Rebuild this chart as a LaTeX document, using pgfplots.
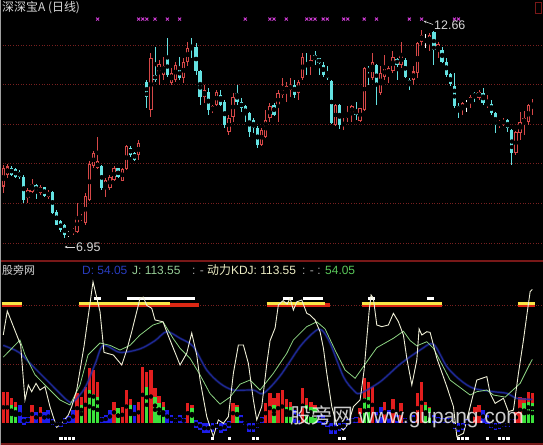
\documentclass[border=0pt]{standalone}
\usepackage{fontspec}
\setmainfont{Liberation Sans}
\newfontfamily\cjk{Noto Sans CJK SC}
\usepackage{pgfplots}
\usepackage{pgfplotstable}
\pgfplotsset{compat=1.18}
\usetikzlibrary{arrows.meta}

\definecolor{upred}{RGB}{214,72,72}
\definecolor{dncyan}{RGB}{100,226,226}
\definecolor{xpink}{RGB}{205,60,210}
\definecolor{gridred}{RGB}{120,32,32}
\definecolor{framered}{RGB}{120,24,24}
\definecolor{jline}{RGB}{238,238,214}
\definecolor{kline}{RGB}{140,210,130}
\definecolor{dline}{RGB}{36,48,175}
\definecolor{hred}{RGB}{226,30,30}
\definecolor{hgreen}{RGB}{60,226,60}
\definecolor{hblue}{RGB}{30,30,235}
\definecolor{stripered}{RGB}{220,40,20}
\definecolor{stripeyel}{RGB}{250,230,70}
\definecolor{txtgray}{RGB}{215,215,215}
\definecolor{sepgray}{RGB}{170,170,170}
\definecolor{dtxt}{RGB}{40,60,190}
\definecolor{jtxt}{RGB}{150,205,150}
\definecolor{ktxt}{RGB}{235,235,195}
\definecolor{gtxt}{RGB}{90,200,90}

% daily candles: index, open, high, low, close
\pgfplotstableread{
i O H L C
0 8.36 8.95 8.18 8.86
1 8.68 8.97 8.59 8.91
6 8.04 8.31 7.90 8.27
7 8.22 8.57 8.18 8.42
9 8.18 8.39 8.13 8.36
11 8.08 8.27 8.02 8.22
17 7.08 7.23 7.03 7.20
18 7.12 7.90 7.08 7.53
19 7.44 7.60 7.40 7.56
20 7.35 8.18 7.31 8.11
21 7.99 9.05 7.95 8.97
22 8.91 9.34 8.86 9.27
23 8.86 9.73 8.84 9.05
25 8.31 8.59 8.08 8.54
26 8.31 8.68 8.27 8.63
27 8.54 8.91 8.50 8.86
29 8.51 8.88 8.50 8.84
30 8.84 9.50 8.82 9.46
33 9.23 9.64 9.09 9.55
36 10.46 12.02 10.28 11.88
38 11.47 11.84 11.15 11.72
39 11.43 11.93 11.29 11.66
41 11.20 11.61 11.15 11.47
42 11.29 11.79 11.24 11.70
44 11.33 11.88 11.20 11.79
45 11.79 12.34 11.66 12.16
49 10.83 11.15 10.65 11.01
51 10.44 10.60 10.37 10.56
52 10.60 11.01 10.56 10.97
55 9.87 10.33 9.78 10.24
56 10.28 10.92 10.14 10.83
63 9.50 9.96 9.46 9.92
64 9.73 10.46 9.69 10.19
65 10.24 10.65 10.14 10.56
67 10.56 11.01 10.14 10.92
68 10.88 11.34 10.79 11.01
69 10.97 11.24 10.69 11.11
70 11.01 11.34 10.83 11.15
72 10.92 11.29 10.74 11.24
73 11.33 12.02 11.29 11.93
75 11.66 11.98 11.43 11.84
81 10.05 10.62 10.03 10.60
83 10.01 10.24 9.92 10.14
84 10.24 10.56 10.14 10.37
85 10.37 10.60 10.14 10.56
87 10.16 10.53 10.14 10.51
88 10.46 11.63 10.44 11.61
90 11.33 12.02 11.29 11.79
92 10.92 11.66 10.88 11.47
93 11.38 11.98 11.29 11.61
94 11.43 11.66 11.20 11.61
95 11.52 12.07 11.47 11.93
97 11.70 12.34 11.61 11.98
100 11.29 11.66 11.15 11.52
101 11.47 12.34 11.33 12.30
102 12.33 12.66 12.25 12.52
104 12.30 12.57 12.07 12.52
106 12.07 12.34 11.88 12.27
112 10.46 10.69 10.33 10.65
114 10.65 10.88 10.51 10.83
116 10.80 11.01 10.74 10.97
118 10.56 10.88 10.51 10.69
121 10.07 10.19 9.96 10.13
122 10.07 10.24 10.03 10.19
125 9.27 9.89 9.23 9.87
126 9.82 10.40 9.64 10.14
127 10.10 10.44 9.78 10.24
128 10.14 10.62 10.05 10.60
129 10.56 10.77 10.33 10.65
}\upcandles

\pgfplotstableread{
i O H L C
2 8.88 8.91 8.66 8.68
3 8.84 8.86 8.59 8.63
4 8.77 8.82 8.57 8.61
5 8.63 8.68 7.90 7.99
8 8.40 8.42 8.02 8.22
10 8.34 8.36 8.06 8.11
12 8.22 8.24 7.60 7.63
13 7.67 7.72 7.29 7.31
14 7.40 7.44 7.12 7.17
15 7.31 7.33 6.95 7.03
24 8.91 8.95 8.27 8.31
28 8.86 8.88 8.59 8.61
31 9.43 9.48 9.18 9.23
32 9.29 9.32 9.05 9.09
35 11.24 11.29 10.51 10.83
37 11.43 12.20 11.24 11.29
40 11.88 12.43 11.38 11.43
43 11.61 11.93 11.29 11.33
46 12.23 12.43 11.88 12.18
47 12.20 12.30 11.43 11.52
48 11.52 11.56 10.60 10.83
50 10.97 11.06 10.33 10.46
53 10.88 11.01 10.56 10.60
54 10.69 10.74 9.96 10.05
57 10.92 11.15 10.60 10.69
58 10.69 10.78 10.42 10.51
59 10.56 10.60 10.14 10.33
60 10.37 10.40 9.73 9.87
61 10.19 10.24 9.82 9.96
62 9.96 10.01 9.41 9.50
66 10.60 10.65 10.31 10.33
71 11.15 11.29 10.79 10.88
74 11.72 12.02 11.43 11.66
76 11.98 12.07 11.70 11.84
77 11.88 11.90 11.43 11.75
78 11.70 11.79 11.38 11.43
79 11.47 11.66 11.29 11.33
80 11.26 11.29 10.08 10.10
82 10.60 10.62 9.94 10.05
86 10.46 10.68 10.19 10.33
89 11.61 11.66 11.15 11.52
91 11.70 11.72 10.60 11.11
96 11.87 11.88 11.29 11.70
98 11.84 11.88 11.33 11.38
99 11.29 11.33 11.01 11.15
105 12.60 12.64 11.70 12.11
107 12.11 12.20 11.75 11.79
108 11.79 11.88 11.38 11.43
109 11.44 11.47 11.11 11.17
110 11.11 11.47 10.51 10.56
111 10.57 10.65 10.25 10.46
115 10.92 10.97 10.69 10.83
117 10.92 11.06 10.60 10.65
119 10.62 10.74 10.33 10.37
120 10.37 10.40 9.82 10.05
123 10.19 10.21 9.87 9.96
124 9.92 9.94 8.95 9.27
}\downcandles

\pgfplotstableread{
i O H L C
16 7.06 7.14 6.97 7.06
34 10.56 10.57 10.55 10.56
103 12.38 12.55 12.16 12.38
113 10.62 10.74 10.42 10.62
}\dojicandles

% momentum histogram
\pgfplotstableread{
i v
0 26.6
1 26.6
2 21
3 18.1
7 15.3
9 13.9
18 25.2
19 22.4
20 30.9
21 46.5
22 45
23 35.1
27 18.1
28 12.5
29 13.9
30 28
31 20.1
33 18.1
34 47.9
35 43.6
36 45
37 29.5
38 22.9
39 18.1
45 16.7
46 15.3
56 16.7
57 15.3
64 16.7
65 25.2
66 21
67 25.2
68 28
69 20.1
70 18.1
73 29.5
74 21
75 18.1
76 15.3
87 12.5
88 38
89 35.1
90 30.9
93 18.1
95 20.1
97 16.7
101 25.2
102 34.5
103 18.1
104 13.9
115 13.9
116 15.3
125 9.6
126 22.4
127 21
128 26.6
129 25.2
}\redbars

\pgfplotstableread{
i v
2 15.3
3 13.9
19 15.3
21 28
22 25
23 22.4
28 12.5
31 15.3
35 30.9
37 22.4
38 16.7
39 13.9
46 12.5
57 13.9
66 15.3
69 13.9
70 13.9
74 15.3
75 13.9
76 12.5
88 21
89 22
103 15.3
104 12.5
127 16.7
128 18
129 16.7
}\greenbars

\pgfplotstableread{
i lo hi
4 0 15.3
5 -1.7 5.4
6 0 5.4
8 0 9.6
10 0 9.6
11 0 11
12 -2 3
13 -3.1 1
14 -3 1
15 -1 4
16 0 6
17 0 11
24 0 5.4
25 0 6.8
26 0 11
32 0 15.3
40 0 11
41 0 6.8
42 0 4
43 0 6.8
44 0 4
47 -4.5 2.6
48 -6 1
49 -8.8 0
50 -8.8 0
51 -7.4 0
52 -5 0
53 -8.8 0
54 -7 0
55 -4 2
58 0 6.8
59 -2 2
60 -7.4 0
61 -7.4 0
62 -4 0
63 0 5
71 0 11
72 0 8
77 0 6.8
78 -2 6.8
79 -3 2
80 -9 0
81 -9 0
82 -7 0
83 -5 0
84 -2 3
85 0 4
86 0 5
91 0 9.6
92 0 13.9
94 0 11
96 0 6.8
98 0 4
99 0 2.6
100 0 6.8
105 0 6.8
106 0 5
107 0 4
108 0 4
109 0 4
110 -5 0
111 -8 0
112 -6 0
113 -2 3
117 0 11
118 -1 6.8
119 -4 0
120 -6 0
121 -5 0
122 -3 0
123 -3 0
124 0 3
}\bluebars

\pgfplotsset{
  vseg/.style 2 args={only marks, mark=none, forget plot,
    error bars/.cd, y dir=both, y explicit, error mark=none,
    error bar style={draw=#1, line width=#2, solid}},
}

\begin{document}
\begin{tikzpicture}[x=1bp,y=1bp]
\fill[black] (0,0) rectangle (543,445);

% ---------- price panel ----------
\begin{axis}[at={(0bp,182bp)}, anchor=south west,
  width=543bp, height=263bp, scale only axis, hide axis,
  xmin=-0.8, xmax=131.6, ymin=6.259, ymax=13.484]
  \foreach \p in {12.25,11.17,10.08,8.99,7.90,6.81}{
    \edef\tmp{\noexpand\draw[gridred, line width=0.8bp, dash pattern=on 1bp off 1.6bp]
      (axis cs:-0.8,\p) -- (axis cs:131.6,\p);}\tmp}
  % wicks
  \addplot[vseg={upred}{0.9bp}] table[x=i, y expr={(\thisrow{H}+\thisrow{L})/2}, y error expr={(\thisrow{H}-\thisrow{L})/2}] {\upcandles};
  \addplot[vseg={dncyan}{0.9bp}] table[x=i, y expr={(\thisrow{H}+\thisrow{L})/2}, y error expr={(\thisrow{H}-\thisrow{L})/2}] {\downcandles};
  \addplot[vseg={white}{0.9bp}] table[x=i, y expr={(\thisrow{H}+\thisrow{L})/2}, y error expr={(\thisrow{H}-\thisrow{L})/2}] {\dojicandles};
  % bodies
  \addplot[vseg={upred}{3.3bp}] table[x=i, y expr={(\thisrow{O}+\thisrow{C})/2}, y error expr={max(abs(\thisrow{C}-\thisrow{O})/2,0.014)}] {\upcandles};
  \addplot[vseg={black}{1.3bp}] table[x=i, y expr={(\thisrow{O}+\thisrow{C})/2}, y error expr={max(abs(\thisrow{C}-\thisrow{O})/2-0.028,0)}] {\upcandles};
  \addplot[vseg={dncyan}{3.3bp}] table[x=i, y expr={(\thisrow{O}+\thisrow{C})/2}, y error expr={max(abs(\thisrow{C}-\thisrow{O})/2,0.014)}] {\downcandles};
  \addplot[vseg={white}{3.3bp}] table[x=i, y expr={(\thisrow{O}+\thisrow{C})/2}, y error expr={max(abs(\thisrow{C}-\thisrow{O})/2,0.014)}] {\dojicandles};
  % signal marks
  \addplot[only marks, mark=x, mark size=2.1bp, xpink, line width=0.9bp] coordinates {
    (23,12.96) (33,12.96) (34,12.96) (35,12.96) (37,12.96) (40,12.96) (43,12.96)
    (59,12.96) (65,12.96) (66,12.96) (69,12.96) (74,12.96) (75,12.96) (76,12.96)
    (78,12.96) (79,12.96) (83,12.96) (84,12.96) (88,12.96) (91,12.96) (99,12.96)
    (102,12.96) (110,12.96) (111,12.96)};
\end{axis}

% ---------- indicator panel ----------
\begin{axis}[at={(0bp,0bp)}, anchor=south west,
  width=543bp, height=182bp, scale only axis, hide axis,
  xmin=-0.8, xmax=131.6, ymin=-18.7, ymax=136]
  \draw[gridred, line width=0.8bp, dash pattern=on 1bp off 1.6bp] (axis cs:-0.8,100) -- (axis cs:131.6,100);
  \draw[gridred, line width=0.8bp, dash pattern=on 1bp off 1.6bp] (axis cs:-0.8,50) -- (axis cs:131.6,50);
  % histogram
  \addplot[vseg={hred}{3.3bp}] table[x=i, y expr={\thisrow{v}/2}, y error expr={\thisrow{v}/2}] {\redbars};
  \addplot[vseg={hgreen}{3.3bp}] table[x=i, y expr={\thisrow{v}/2}, y error expr={\thisrow{v}/2}] {\greenbars};
  \addplot[vseg={hblue}{3.8bp}] table[x=i, y expr={(\thisrow{lo}+\thisrow{hi})/2}, y error expr={(\thisrow{hi}-\thisrow{lo})/2}] {\bluebars};
  % overbought stripes
  \addplot[stripered, line width=4.6bp] coordinates {(-0.4,100.4) (4.5,100.4)};
  \addplot[stripered, line width=4.6bp] coordinates {(18.5,100.4) (47.7,100.4)};
  \addplot[stripered, line width=4.6bp] coordinates {(64.2,100.4) (79.7,100.4)};
  \addplot[stripered, line width=4.6bp] coordinates {(87.4,100.4) (106.9,100.4)};
  \addplot[stripered, line width=4.6bp] coordinates {(125.5,100.4) (129.7,100.4)};
  \addplot[stripeyel, line width=2.2bp] coordinates {(-0.4,101.6) (4.5,101.6)};
  \addplot[stripeyel, line width=2.2bp] coordinates {(18.5,101.6) (40.7,101.6)};
  \addplot[stripeyel, line width=2.2bp] coordinates {(64.2,101.6) (78.5,101.6)};
  \addplot[stripeyel, line width=2.2bp] coordinates {(87.4,101.6) (106.9,101.6)};
  \addplot[stripeyel, line width=2.2bp] coordinates {(125.5,101.6) (129.7,101.6)};
  \addplot[white, line width=3bp] coordinates {(22.1,106) (23.8,106)};
  \addplot[white, line width=3bp] coordinates {(30.2,106) (46.8,106)};
  \addplot[white, line width=3bp] coordinates {(68.1,106) (70.7,106)};
  \addplot[white, line width=3bp] coordinates {(73.2,106) (78.0,106)};
  \addplot[white, line width=3bp] coordinates {(89.0,106) (90.7,106)};
  \addplot[white, line width=3bp] coordinates {(103.3,106) (104.9,106)};
  % D line
  \addplot[dline, line width=2.6bp, opacity=0.3, smooth, tension=0.5] coordinates {
    (0,66) (2.85,62) (4.07,59.5) (7.32,47.9) (11.39,33.7) (15.46,19.6) (17.07,18.1)
    (19.93,30) (22.37,50) (24.39,66) (28.46,60) (33.34,63) (37.0,70) (39.85,77.6)
    (43.10,72) (46.34,64.9) (49.61,45) (52.85,33.7) (56.10,28) (60.98,28) (63.41,25.2)
    (67.49,40) (72.37,65) (76.02,78) (77.66,79) (79.68,68) (82.93,39.4) (85.37,28)
    (87.0,25.2) (91.88,35) (96.76,50) (101.63,62) (104.88,67) (108.15,47.9) (111.41,36.5)
    (114.63,29.5) (119.51,26.6) (122.78,25.2) (125.22,21) (128.98,20)};
  \addplot[dline, line width=1.2bp, opacity=0.8, smooth, tension=0.5] coordinates {
    (0,66) (2.85,62) (4.07,59.5) (7.32,47.9) (11.39,33.7) (15.46,19.6) (17.07,18.1)
    (19.93,30) (22.37,50) (24.39,66) (28.46,60) (33.34,63) (37.0,70) (39.85,77.6)
    (43.10,72) (46.34,64.9) (49.61,45) (52.85,33.7) (56.10,28) (60.98,28) (63.41,25.2)
    (67.49,40) (72.37,65) (76.02,78) (77.66,79) (79.68,68) (82.93,39.4) (85.37,28)
    (87.0,25.2) (91.88,35) (96.76,50) (101.63,62) (104.88,67) (108.15,47.9) (111.41,36.5)
    (114.63,29.5) (119.51,26.6) (122.78,25.2) (125.22,21) (128.98,20)};
  % K line
  \addplot[kline, line width=0.8bp] coordinates {
    (0,56) (4.07,70.5) (5.29,58) (7.73,41) (11.39,28) (13.83,19.6) (16.27,15.3)
    (18.71,32.3) (20.66,57.8) (23.59,68) (26.02,66) (28.46,62) (30.90,66) (33.34,74.8)
    (36.51,83.3) (38.95,86) (41.39,72) (43.10,63.5) (45.54,55) (47.98,40.8) (50.41,25)
    (52.85,16) (55.29,22) (57.73,33) (60.17,36.5) (62.61,28) (65.85,42.2) (69.12,59.2)
    (70.73,70.5) (74.0,81.9) (76.44,86) (78.46,80) (80.90,62) (83.34,45) (85.78,38)
    (87.80,47.9) (91.07,64) (95.12,72) (97.56,78) (99.22,70) (100.83,65.6) (103.27,69.1)
    (104.88,63.5) (108.95,36.5) (113.83,23.8) (115.46,26.6) (117.90,28) (119.51,23.8)
    (122.37,22) (126.02,33.7) (128.46,50.7) (129,54.05)};
  % J line
  \addplot[jline, line width=0.9bp] coordinates {
    (0,74.8) (0.98,95.2) (4.24,66.3) (5.29,19.6) (6.10,32.3) (6.93,26.6) (7.98,33.7)
    (8.95,28) (10.17,30.9) (11.39,13.9) (13.02,-3.7) (14.24,-0.3) (15.85,6.8) (16.68,13.9)
    (17.90,28) (19.68,65) (21.88,120) (23.59,94.6) (24.56,60) (26.83,57.8) (28.88,49.3)
    (30.10,62) (31.32,77.6) (33.34,106) (34.15,107) (34.98,100) (36.20,97.5) (37.0,87.6)
    (38.95,86) (39.85,77.6) (40.66,70.5) (43.10,49.3) (44.73,59.3) (45.95,76.5) (47.17,57.8)
    (47.98,36.5) (49.61,5.4) (51.22,-11.6) (52.44,2.6) (53.66,-0.3) (54.88,5.4) (56.10,42.2)
    (57.32,66.3) (58.54,66.3) (59.76,50.7) (60.98,19.6) (61.80,2.6) (63.02,13.9) (64.24,50)
    (65.05,70) (66.27,80.7) (67.07,100.3) (68.22,104) (69.20,101) (69.93,106) (70.73,96)
    (71.56,103) (72.78,104.5) (74.0,93.2) (74.80,91.8) (76.02,87.6) (77.24,77.6) (78.05,63.7)
    (78.88,42.2) (80.10,13.9) (81.32,-1.7) (82.93,-6) (84.15,-0.3) (85.37,13.9) (87.0,19.6)
    (87.98,45) (88.71,75) (89.20,95) (89.68,108.8) (90.24,106) (91.07,83.3) (92.29,81.9)
    (93.90,83.3) (95.12,93.2) (96.34,86.1) (97.56,74.8) (98.39,55) (99.61,32.3) (100.83,53.6)
    (101.39,80) (102.05,74.8) (103.27,77.6) (104.07,77) (104.88,66.3) (105.71,55) (108.15,30.9)
    (109.76,13.9) (110.59,-11.6) (112.20,-8.8) (113.83,13.9) (115.46,36.5) (117.90,39.4)
    (118.71,25.2) (119.93,16.7) (121.95,21) (123.17,9.6) (124.39,11) (125.61,42.2)
    (126.83,70.5) (127.66,91.8) (128.46,111.6) (129,113.55)};
  % bottom signal squares
  \addplot[only marks, mark=square*, mark size=1.05bp, white] coordinates {
    (14,-12.75) (15,-12.75) (16,-12.75) (17,-12.75) (51,-12.75) (55,-12.75)
    (61,-12.75) (62,-12.75) (82,-12.75) (83,-12.75) (111,-12.75) (112,-12.75)
    (113,-12.75) (118,-12.75) (121,-12.75) (122,-12.75) (123,-12.75)};
\end{axis}

% frame
\draw[framered, line width=1.3bp] (0,184) -- (543,184);
\draw[framered, line width=1.3bp] (0,1) -- (543,1);
\draw[gray!75, line width=0.8bp] (0.4,0) -- (0.4,445);
\draw[framered, line width=0.8bp] (535.5,432) rectangle (541.5,443);

% price panel captions
\node[anchor=west, inner sep=0, text=txtgray, font=\cjk\fontsize{12}{12}\selectfont] at (2,437) {深深宝A (日线)};
\draw[txtgray, line width=0.6bp, -{Stealth[length=3bp,width=2.6bp]}] (433,420.5) -- (423.5,424);
\node[anchor=west, inner sep=0, text=txtgray, font=\fontsize{12.5}{13}\selectfont] at (434,419.5) {12.66};
\draw[txtgray, line width=0.6bp, -{Stealth[length=3bp,width=2.6bp]}] (75,198) -- (64.5,198);
\node[anchor=west, inner sep=0, text=txtgray, font=\fontsize{12.5}{13}\selectfont] at (76,198) {6.95};

% indicator panel captions
\begin{scope}[every node/.style={anchor=base west, inner sep=0, font=\fontsize{12}{13}\selectfont}]
\node[text=txtgray, font=\cjk\fontsize{11}{12}\selectfont] at (2,170.7) {股旁网};
\node[text=dtxt] at (82,170.7) {D: 54.05};
\node[text=jtxt] at (132,170.7) {J: 113.55};
\node[text=sepgray] at (192,170.7) {: -};
\node[text=ktxt] at (207,170.7) {{\cjk 动力}KDJ: 113.55};
\node[text=sepgray] at (302,170.7) {: - :};
\node[text=gtxt] at (325,170.7) {54.05};
\end{scope}

% watermark
\node[anchor=base west, inner sep=0, text=white, opacity=0.8, font=\fontsize{21}{22}\selectfont] at (290,21) {{\cjk 股旁网} www.gupang.com};

\pgfresetboundingbox
\useasboundingbox (0,0) rectangle (543,445);
\end{tikzpicture}
\end{document}
